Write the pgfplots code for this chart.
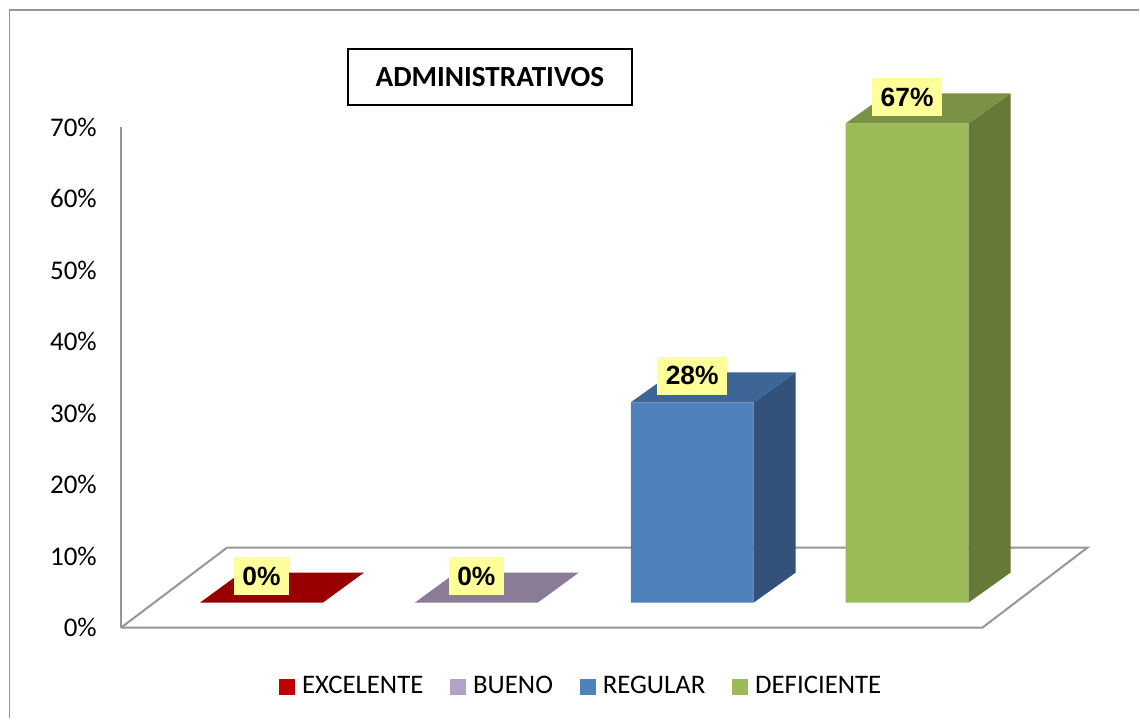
\documentclass[border=0pt]{standalone}
\usepackage{pgfplots}
\pgfplotsset{compat=1.18}
\usepackage{fontspec}
\setmainfont{Carlito}
\newfontfamily\arialfont{Liberation Sans}
\definecolor{exc}{HTML}{C00000}
\definecolor{excT}{HTML}{980000}
\definecolor{bue}{HTML}{B3A2C7}
\definecolor{bueT}{HTML}{8A7B97}
\definecolor{reg}{HTML}{4F81BD}
\definecolor{regS}{HTML}{32527C}
\definecolor{regT}{HTML}{3D6596}
\definecolor{def}{HTML}{9BBB59}
\definecolor{defS}{HTML}{667A38}
\definecolor{defT}{HTML}{7B9146}
\definecolor{lbl}{HTML}{FFFF99}
\definecolor{gridgray}{HTML}{969696}
\begin{document}
\begin{tikzpicture}
\begin{axis}[
  x=0.5pt, y=3.5785pt,
  xmin=0, xmax=1140, ymin=-12.71, ymax=87.75,
  scale only axis,
  clip=false,
  axis line style={draw=none},
  xtick=\empty,
  ytick={0,10,...,70},
  major tick length=0pt,
  /pgf/number format/assume math mode=true,
  yticklabel={\pgfmathprintnumber{\tick}\%},
  yticklabel style={anchor=east, inner sep=0pt, xshift=48.5pt, font=\fontsize{13.5}{16}\selectfont},
  legend image code/.code={\fill[#1] (0pt,-3.75pt) rectangle (7.5pt,3.75pt); \path (9pt,0pt);},
  legend columns=4,
  legend cell align=left,
  legend style={at={(axis cs:582.5,-8.24)}, anchor=center, draw=none, fill=none,
    font=\fontsize{13.4}{15}\selectfont, inner sep=0pt,
    /tikz/every even column/.append style={column sep=11.5pt}},
]
% outer chart border (left and top)
\draw[gridgray, line width=0.6pt] (axis cs:9,-12.71) -- (axis cs:9,86.35) -- (axis cs:1140,86.35);
% floor
\addplot[forget plot, fill=white, draw=gridgray, line width=1pt]
  coordinates {(121,0) (983,0) (1088,11.18) (227,11.18) (121,0)};
% vertical axis line
\addplot[forget plot, draw=gridgray, line width=1pt] coordinates {(121,0) (121,70)};
% EXCELENTE (0%)
\addplot[forget plot, fill=excT, draw=none, yshift=12.5pt]
  coordinates {(200,0) (323,0) (364,4.19) (241,4.19) (200,0)};
% BUENO (0%)
\addplot[forget plot, fill=bueT, draw=none, yshift=12.5pt]
  coordinates {(415,0) (538,0) (579,4.19) (456,4.19) (415,0)};
% REGULAR (28%)
\addplot[forget plot, fill=reg, draw=none, yshift=12.5pt]
  coordinates {(631,0) (754,0) (754,28) (631,28) (631,0)};
\addplot[forget plot, fill=regS, draw=none, yshift=12.5pt]
  coordinates {(754,0) (796,4.19) (796,32.19) (754,28) (754,0)};
\addplot[forget plot, fill=regT, draw=none, yshift=12.5pt]
  coordinates {(631,28) (754,28) (796,32.19) (673,32.19) (631,28)};
% DEFICIENTE (67%)
\addplot[forget plot, fill=def, draw=none, yshift=12.5pt]
  coordinates {(846,0) (969,0) (969,67) (846,67) (846,0)};
\addplot[forget plot, fill=defS, draw=none, yshift=12.5pt]
  coordinates {(969,0) (1011,4.19) (1011,71.19) (969,67) (969,0)};
\addplot[forget plot, fill=defT, draw=none, yshift=12.5pt]
  coordinates {(846,67) (969,67) (1011,71.19) (888,71.19) (846,67)};
% data labels
\addplot[forget plot, draw=none, point meta=y,
  nodes near coords={\pgfmathprintnumber{\pgfplotspointmeta}\%},
  every node near coord/.style={anchor=center, yshift=25.74pt, fill=lbl,
    inner xsep=4.4pt, inner ysep=0pt, minimum height=19pt,
    font=\arialfont\bfseries\fontsize{13.2}{15}\selectfont, text=black}]
  coordinates {(261.5,0) (476.5,0) (692.5,28) (907.5,67)};
% title
\node[draw=black, line width=0.9pt, minimum width=142pt, minimum height=28pt,
  inner sep=0pt, font=\bfseries\fontsize{14.6}{17}\selectfont]
  at (axis cs:490,76.99) {ADMINISTRATIVOS};
% legend
\addlegendimage{exc}\addlegendentry{EXCELENTE}
\addlegendimage{bue}\addlegendentry{BUENO}
\addlegendimage{reg}\addlegendentry{REGULAR}
\addlegendimage{def}\addlegendentry{DEFICIENTE}
\end{axis}
\end{tikzpicture}
\end{document}
